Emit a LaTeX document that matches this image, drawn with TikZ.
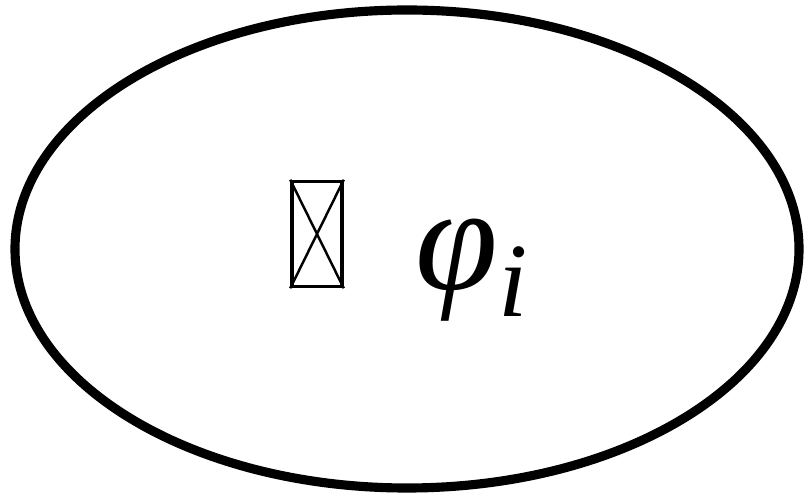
\documentclass[tikz,border=0pt]{standalone}
\usepackage{fontspec}
\setmainfont{Liberation Serif}
\tikzset{
    oval/.style={draw, line width=5.2pt},
    tofu/.style={draw, line width=2pt, minimum width=1.0cm, minimum height=2.1cm, inner sep=0pt},
}
\begin{document}
\begin{tikzpicture}
    \useasboundingbox (0,0) rectangle (16.08,9.9);
    \draw[oval] (8.14,4.92) ellipse (7.84 and 4.78);
    \node[tofu] (box) at (6.34,5.22) {};
    \draw[line width=1.4pt] (box.north west) -- (box.south east)
        (box.north east) -- (box.south west);
    \node[anchor=base west, inner sep=0pt] (phi) at (8.3,4.1)
        {\fontsize{85}{90}\selectfont\itshape φ};
    \node[anchor=base west, inner sep=0pt] (idx) at ([xshift=0pt]phi.base east)
        {\raisebox{-15pt}{\fontsize{60}{64}\selectfont\itshape i}};
\end{tikzpicture}
\end{document}
